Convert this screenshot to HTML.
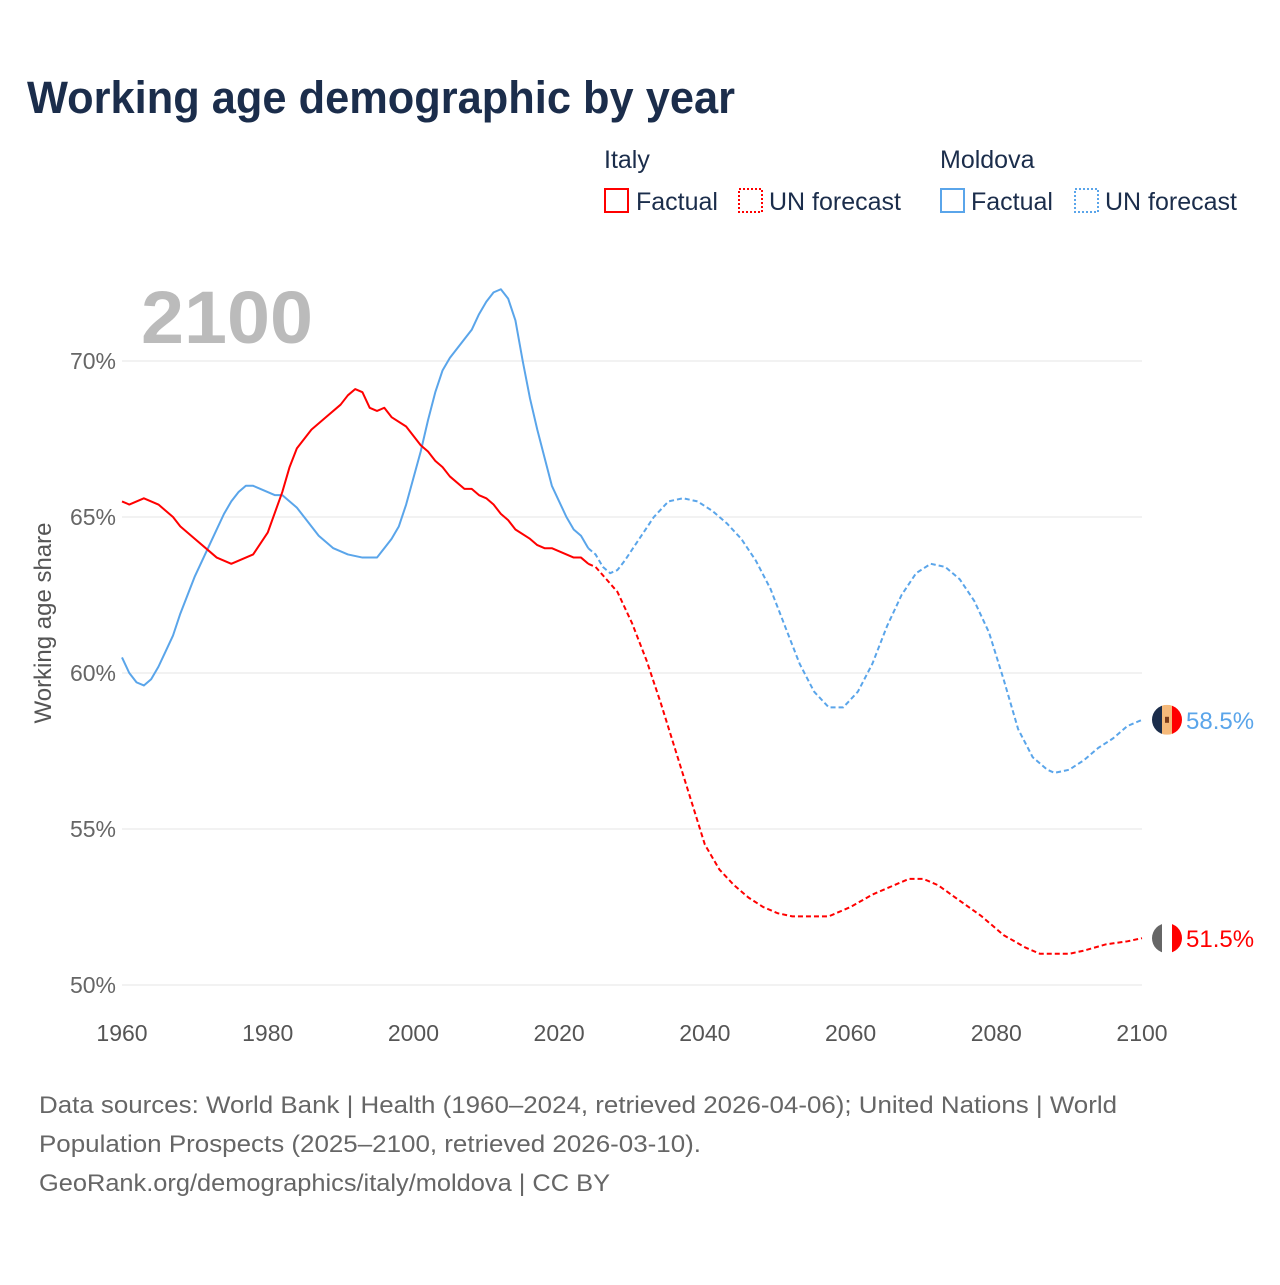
<!DOCTYPE html>
<html><head><meta charset="utf-8"><style>
body{margin:0;background:#fff;font-family:"Liberation Sans",sans-serif}
</style></head><body>
<svg width="1280" height="1280" viewBox="0 0 1280 1280" xmlns="http://www.w3.org/2000/svg" font-family="Liberation Sans, sans-serif">
<text x="27" y="113" font-size="45" font-weight="bold" fill="#1b2d4b" textLength="708" lengthAdjust="spacingAndGlyphs">Working age demographic by year</text>
<g font-size="25" fill="#1b2d4b">
<text x="604" y="168">Italy</text>
<text x="940" y="168">Moldova</text>
<g><rect x="605" y="189" width="23" height="23" fill="none" stroke="#f00" stroke-width="2"/><text x="636" y="210">Factual</text></g>
<g><rect x="739" y="189" width="23" height="23" fill="none" stroke="#f00" stroke-width="2" stroke-dasharray="2,2"/><text x="769" y="210">UN forecast</text></g>
<g><rect x="941" y="189" width="23" height="23" fill="none" stroke="#5aa5ea" stroke-width="2"/><text x="971" y="210">Factual</text></g>
<g><rect x="1075" y="189" width="23" height="23" fill="none" stroke="#5aa5ea" stroke-width="2" stroke-dasharray="2,2"/><text x="1105" y="210">UN forecast</text></g>
</g>
<text x="141" y="343" font-size="74" font-weight="bold" fill="#bbb" textLength="172" lengthAdjust="spacingAndGlyphs">2100</text>
<g id="grid"></g>
<g id="series"></g>
<text transform="translate(51,623) rotate(-90)" text-anchor="middle" font-size="24" fill="#555">Working age share</text>
<g id="endlabels"></g>
<g font-size="24" fill="#666">
<text x="39" y="1113" textLength="1078" lengthAdjust="spacingAndGlyphs">Data sources: World Bank | Health (1960–2024, retrieved 2026-04-06); United Nations | World</text>
<text x="39" y="1152" textLength="662" lengthAdjust="spacingAndGlyphs">Population Prospects (2025–2100, retrieved 2026-03-10).</text>
<text x="39" y="1191" textLength="571" lengthAdjust="spacingAndGlyphs">GeoRank.org/demographics/italy/moldova | CC BY</text>
</g>
</svg>
<script>
const yTicks=[50,55,60,65,70];
const xTicks=[1960,1980,2000,2020,2040,2060,2080,2100];
const italyFactual=[[1960,65.5],[1961,65.4],[1963,65.6],[1965,65.4],[1967,65.0],[1968,64.7],[1970,64.3],[1972,63.9],[1973,63.7],[1975,63.5],[1978,63.8],[1980,64.5],[1982,65.8],[1983,66.6],[1984,67.2],[1986,67.8],[1988,68.2],[1990,68.6],[1991,68.9],[1992,69.1],[1993,69.0],[1994,68.5],[1995,68.4],[1996,68.5],[1997,68.2],[1999,67.9],[2000,67.6],[2001,67.3],[2002,67.1],[2003,66.8],[2004,66.6],[2005,66.3],[2007,65.9],[2008,65.9],[2009,65.7],[2010,65.6],[2011,65.4],[2012,65.1],[2013,64.9],[2014,64.6],[2016,64.3],[2017,64.1],[2018,64.0],[2019,64.0],[2021,63.8],[2022,63.7],[2023,63.7],[2024,63.5]];
const italyForecast=[[2024,63.5],[2025,63.4],[2028,62.6],[2030,61.6],[2032,60.4],[2034,59.0],[2036,57.5],[2038,56.0],[2040,54.5],[2042,53.7],[2044,53.2],[2046,52.8],[2048,52.5],[2050,52.3],[2052,52.2],[2057,52.2],[2060,52.5],[2063,52.9],[2066,53.2],[2068,53.4],[2070,53.4],[2072,53.2],[2075,52.7],[2078,52.2],[2081,51.6],[2084,51.2],[2086,51.0],[2090,51.0],[2092,51.1],[2095,51.3],[2098,51.4],[2100,51.5]];
const moldovaFactual=[[1960,60.5],[1961,60.0],[1962,59.7],[1963,59.6],[1964,59.8],[1965,60.2],[1966,60.7],[1967,61.2],[1968,61.9],[1969,62.5],[1970,63.1],[1971,63.6],[1972,64.1],[1973,64.6],[1974,65.1],[1975,65.5],[1976,65.8],[1977,66.0],[1978,66.0],[1979,65.9],[1980,65.8],[1981,65.7],[1982,65.7],[1983,65.5],[1984,65.3],[1985,65.0],[1987,64.4],[1989,64.0],[1991,63.8],[1993,63.7],[1995,63.7],[1996,64.0],[1997,64.3],[1998,64.7],[1999,65.4],[2000,66.25],[2001,67.1],[2002,68.1],[2003,69.0],[2004,69.7],[2005,70.1],[2006,70.4],[2007,70.7],[2008,71.0],[2009,71.5],[2010,71.9],[2011,72.2],[2012,72.3],[2013,72.0],[2014,71.3],[2015,70.0],[2016,68.8],[2017,67.8],[2018,66.9],[2019,66.0],[2020,65.5],[2021,65.0],[2022,64.6],[2023,64.4],[2024,64.0]];
const moldovaForecast=[[2024,64.0],[2025,63.8],[2026,63.4],[2027,63.2],[2028,63.3],[2029,63.6],[2031,64.3],[2033,65.0],[2035,65.5],[2037,65.6],[2039,65.5],[2041,65.2],[2043,64.8],[2045,64.3],[2047,63.6],[2049,62.7],[2051,61.5],[2053,60.3],[2055,59.4],[2057,58.9],[2059,58.9],[2061,59.4],[2063,60.3],[2065,61.5],[2067,62.5],[2069,63.2],[2071,63.5],[2073,63.4],[2075,63.0],[2077,62.3],[2079,61.3],[2081,59.8],[2083,58.2],[2085,57.3],[2087,56.9],[2088,56.8],[2090,56.9],[2092,57.2],[2094,57.6],[2096,57.9],[2098,58.3],[2100,58.5]];
const endLabels=["51.5%","58.5%"];
const NS="http://www.w3.org/2000/svg";
const X=y=>122+(y-1960)*1020/140;
const Y=v=>985-(v-50)*31.2;
const grid=document.getElementById('grid');
function mk(t,a,p){const e=document.createElementNS(NS,t);for(const k in a)e.setAttribute(k,a[k]);p.appendChild(e);return e;}
yTicks.forEach(v=>{
 const l=mk('line',{x1:122,x2:1142,y1:Y(v),y2:Y(v),stroke:'#e6e6e6','stroke-width':1},grid);
 
 
 const t=mk('text',{x:116,y:Y(v)+8,'text-anchor':'end','font-size':23,fill:'#666'},grid);
 t.textContent=v+'%';
 
 
});
xTicks.forEach(y=>{
 const t=mk('text',{x:X(y),y:1041,'text-anchor':'middle','font-size':23,fill:'#555'},grid);
 t.textContent=y;
 
 
});
const S=document.getElementById('series');
function line(d,c,dash,name){
 const p=mk('polyline',{points:d.map(q=>X(q[0])+','+Y(q[1])).join(' '),fill:'none',stroke:c,'stroke-width':2,'stroke-linejoin':'round'},S);
 if(dash)p.setAttribute('stroke-dasharray','5,3');
 
 
}
line(moldovaFactual,'#5aa5ea',false,'moldova-factual-line');
line(moldovaForecast,'#5aa5ea',true,'moldova-forecast-line');
line(italyFactual,'#f00',false,'italy-factual-line');
line(italyForecast,'#f00',true,'italy-forecast-line');
const E=document.getElementById('endlabels');
const iy=Y(italyForecast[italyForecast.length-1][1]), my=Y(moldovaForecast[moldovaForecast.length-1][1]);
const gi=mk('g',{},E);


const ci=mk('clipPath',{id:'ci'},gi);mk('circle',{cx:1167,cy:iy,r:15},ci);
mk('rect',{x:1152,y:iy-15,width:10,height:30,fill:'#666','clip-path':'url(#ci)'},gi);
mk('rect',{x:1162,y:iy-15,width:10,height:30,fill:'#fff','clip-path':'url(#ci)'},gi);
mk('rect',{x:1172,y:iy-15,width:10,height:30,fill:'#f00','clip-path':'url(#ci)'},gi);
const gm=mk('g',{},E);


const cm=mk('clipPath',{id:'cm'},gm);mk('circle',{cx:1167,cy:my,r:15},cm);
mk('rect',{x:1152,y:my-15,width:10,height:30,fill:'#1b2d4b','clip-path':'url(#cm)'},gm);
mk('rect',{x:1162,y:my-15,width:10,height:30,fill:'#f5b97a','clip-path':'url(#cm)'},gm);
mk('rect',{x:1172,y:my-15,width:10,height:30,fill:'#f00','clip-path':'url(#cm)'},gm);
mk('rect',{x:1165,y:my-3,width:4,height:6,fill:'#7a3b1a'},gm);
const ti=mk('text',{x:1186,y:iy+9,'font-size':24,fill:'#f00'},E);ti.textContent=endLabels[0];


const tm=mk('text',{x:1186,y:my+9,'font-size':24,fill:'#5aa5ea'},E);tm.textContent=endLabels[1];


</script>
</body></html>
